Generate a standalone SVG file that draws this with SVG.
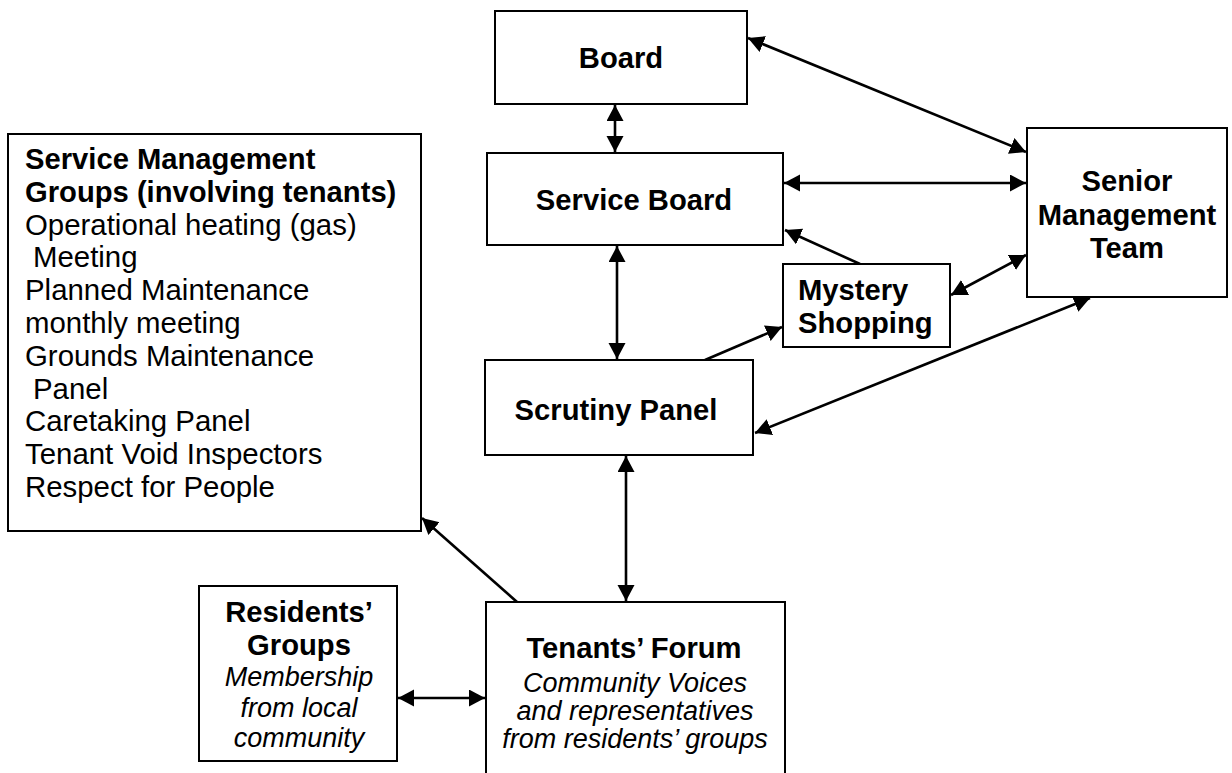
<svg xmlns="http://www.w3.org/2000/svg" width="1232" height="773" viewBox="0 0 1232 773">
<style>
.box{fill:#fff;stroke:#000;stroke-width:2}
.b{font-family:"Liberation Sans",Arial,sans-serif;font-weight:bold;font-size:29.2px;fill:#000}
.r{font-family:"Liberation Sans",Arial,sans-serif;font-size:29.4px;fill:#000}
.i{font-family:"Liberation Sans",Arial,sans-serif;font-style:italic;font-size:27px;fill:#000}
.c{text-anchor:middle}
.ln{stroke:#000;stroke-width:2.6;fill:none}
</style>
<defs>
<marker id="ah" markerUnits="userSpaceOnUse" markerWidth="17" markerHeight="18" refX="16" refY="8.5" orient="auto-start-reverse">
<path d="M0,0 L16,8.5 L0,17 z" fill="#000"/>
</marker>
</defs>
<rect width="1232" height="773" fill="#fff"/>
<g id="connectors">
<line class="ln" x1="615" y1="105" x2="615" y2="152" marker-start="url(#ah)" marker-end="url(#ah)"/>
<line class="ln" x1="748" y1="38" x2="1026" y2="152" marker-start="url(#ah)" marker-end="url(#ah)"/>
<line class="ln" x1="784" y1="183" x2="1026" y2="183" marker-start="url(#ah)" marker-end="url(#ah)"/>
<line class="ln" x1="860" y1="264" x2="785" y2="230" marker-end="url(#ah)"/>
<line class="ln" x1="951" y1="295" x2="1026" y2="255" marker-start="url(#ah)" marker-end="url(#ah)"/>
<line class="ln" x1="617" y1="246" x2="617" y2="359" marker-start="url(#ah)" marker-end="url(#ah)"/>
<line class="ln" x1="705" y1="360" x2="782" y2="327" marker-end="url(#ah)"/>
<line class="ln" x1="755" y1="433" x2="1090" y2="298" marker-start="url(#ah)" marker-end="url(#ah)"/>
<line class="ln" x1="626" y1="456" x2="626" y2="601" marker-start="url(#ah)" marker-end="url(#ah)"/>
<line class="ln" x1="517" y1="602" x2="422" y2="518" marker-end="url(#ah)"/>
<line class="ln" x1="398" y1="698" x2="485" y2="698" marker-start="url(#ah)" marker-end="url(#ah)"/>
</g>
<g id="board">
<rect class="box" x="495" y="11" width="252" height="93"/>
<text class="b c" x="621" y="68">Board</text>
</g>
<g id="service-board">
<rect class="box" x="487" y="153" width="296" height="92"/>
<text class="b c" x="634" y="210">Service Board</text>
</g>
<g id="senior-management-team">
<rect class="box" x="1027" y="128" width="200" height="169"/>
<text class="b c" x="1127" y="191">Senior</text>
<text class="b c" x="1127" y="225">Management</text>
<text class="b c" x="1127" y="258">Team</text>
</g>
<g id="mystery-shopping">
<rect class="box" x="783" y="264" width="167" height="83"/>
<text class="b" x="798" y="300">Mystery</text>
<text class="b" x="798" y="333">Shopping</text>
</g>
<g id="scrutiny-panel">
<rect class="box" x="485" y="360" width="268" height="95"/>
<text class="b c" x="616" y="420">Scrutiny Panel</text>
</g>
<g id="service-management-groups">
<rect class="box" x="8" y="134" width="413" height="397"/>
<text class="b" x="25" y="169">Service Management</text>
<text class="b" x="25" y="202">Groups (involving tenants)</text>
<text class="r" x="25" y="234.5">Operational heating (gas)</text>
<text class="r" x="33" y="267">Meeting</text>
<text class="r" x="25" y="300">Planned Maintenance</text>
<text class="r" x="25" y="333">monthly meeting</text>
<text class="r" x="25" y="366">Grounds Maintenance</text>
<text class="r" x="33" y="398.5">Panel</text>
<text class="r" x="25" y="431">Caretaking Panel</text>
<text class="r" x="25" y="464">Tenant Void Inspectors</text>
<text class="r" x="25" y="497">Respect for People</text>
</g>
<g id="residents-groups">
<rect class="box" x="199" y="586" width="198" height="175"/>
<text class="b c" x="299" y="622">Residents’</text>
<text class="b c" x="299" y="655">Groups</text>
<text class="i c" x="299" y="686">Membership</text>
<text class="i c" x="299" y="717">from local</text>
<text class="i c" x="299" y="747">community</text>
</g>
<g id="tenants-forum">
<rect class="box" x="486" y="602" width="299" height="180"/>
<text class="b c" x="634" y="658">Tenants’ Forum</text>
<text class="i c" x="635" y="692">Community Voices</text>
<text class="i c" x="635" y="720">and representatives</text>
<text class="i c" x="635" y="748">from residents’ groups</text>
</g>
</svg>
